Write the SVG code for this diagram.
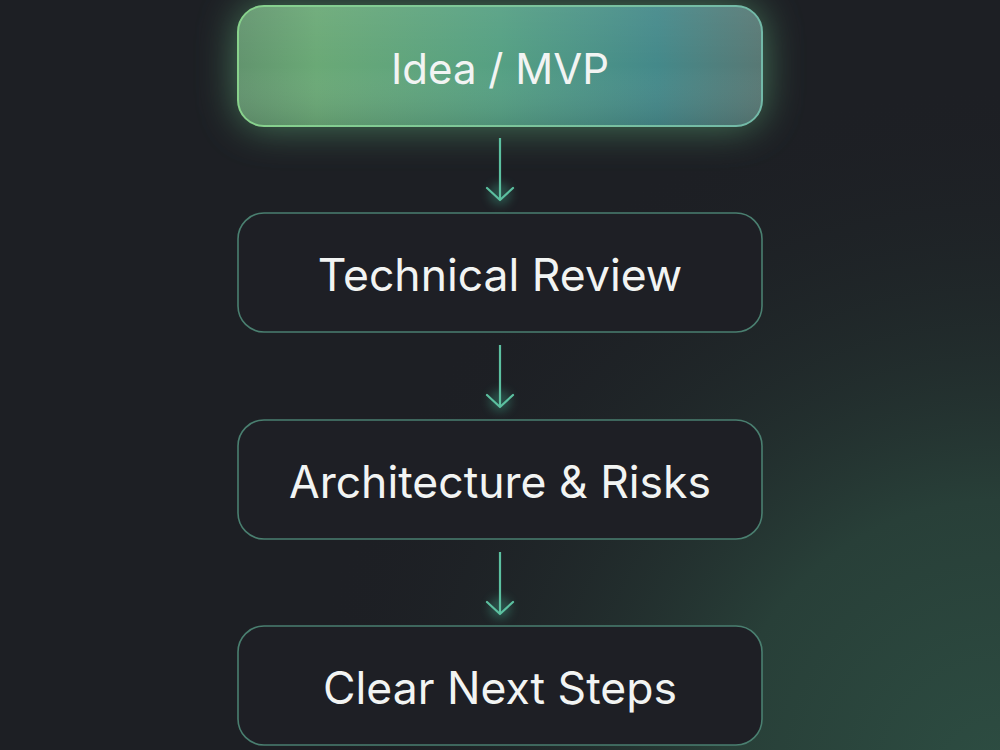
<svg xmlns="http://www.w3.org/2000/svg" width="1000" height="750" viewBox="0 0 1000 750">
  <defs>
    <radialGradient id="bgGlow" cx="1000" cy="780" r="700" gradientUnits="userSpaceOnUse">
      <stop offset="0" stop-color="#2d4d42"/>
      <stop offset="0.4" stop-color="#283f38"/>
      <stop offset="1" stop-color="#1d1f24" stop-opacity="0"/>
    </radialGradient>
    <linearGradient id="topFill" x1="0" y1="0" x2="1" y2="0">
      <stop offset="0" stop-color="#62946e"/>
      <stop offset="0.15" stop-color="#6aa976"/>
      <stop offset="0.5" stop-color="#55a083"/>
      <stop offset="0.8" stop-color="#44898a"/>
      <stop offset="1" stop-color="#587874"/>
    </linearGradient>
    <linearGradient id="topShade" x1="0" y1="0" x2="0" y2="1">
      <stop offset="0" stop-color="#ffffff" stop-opacity="0.06"/>
      <stop offset="0.5" stop-color="#ffffff" stop-opacity="0"/>
      <stop offset="1" stop-color="#1d1f24" stop-opacity="0.12"/>
    </linearGradient>
    <linearGradient id="topStroke" x1="0" y1="0" x2="1" y2="0">
      <stop offset="0" stop-color="#88d28c"/>
      <stop offset="1" stop-color="#72b9a8"/>
    </linearGradient>
    <filter id="glow" x="-30%" y="-80%" width="160%" height="260%">
      <feGaussianBlur stdDeviation="20"/>
    </filter>
    <filter id="aglow" x="-100%" y="-100%" width="300%" height="300%">
      <feGaussianBlur stdDeviation="5"/>
    </filter>
    <marker id="arrow" viewBox="0 0 30 30" refX="26" refY="15" markerWidth="30" markerHeight="30" markerUnits="userSpaceOnUse" orient="auto">
      <path d="M14 2 L26 15 L14 28" fill="none" stroke="#5cc0a0" stroke-width="2.2" stroke-linecap="round" stroke-linejoin="round"/>
    </marker>
    <style>
      .box { fill: #1e1f25; stroke: #4a7f70; stroke-width: 1.6; }
      .label { font-family: Inter, "Noto Sans", "Liberation Sans", sans-serif; font-size: 44.5px; fill: #f2f4f3; text-anchor: middle; }
      .big { font-size: 42px; }
      .conn { stroke: #5cc0a0; stroke-width: 2.2; fill: none; marker-end: url(#arrow); }
    </style>
  </defs>
  <rect x="0" y="0" width="1000" height="750" fill="#1d1f24"/>
  <rect x="0" y="0" width="1000" height="750" fill="url(#bgGlow)"/>

  <g id="node-idea">
    <rect x="238" y="6" width="524" height="120" rx="26" fill="#5fae7a" opacity="0.65" filter="url(#glow)"/>
    <rect x="238" y="6" width="524" height="120" rx="26" fill="url(#topFill)" stroke="url(#topStroke)" stroke-width="2"/>
    <rect x="239" y="7" width="522" height="118" rx="25" fill="url(#topShade)"/>
    <text class="label big" x="500" y="84">Idea / MVP</text>
  </g>

  <g id="connectors">
    <circle cx="500" cy="194" r="11" fill="#3fa88a" opacity="0.35" filter="url(#aglow)"/>
    <circle cx="500" cy="401" r="11" fill="#3fa88a" opacity="0.35" filter="url(#aglow)"/>
    <circle cx="500" cy="608" r="11" fill="#3fa88a" opacity="0.35" filter="url(#aglow)"/>
    <line class="conn" x1="500" y1="138" x2="500" y2="200"/>
    <line class="conn" x1="500" y1="345" x2="500" y2="407"/>
    <line class="conn" x1="500" y1="552" x2="500" y2="614"/>
  </g>

  <g id="node-review">
    <rect class="box" x="238" y="213" width="524" height="119" rx="26"/>
    <text class="label" x="500" y="291">Technical Review</text>
  </g>

  <g id="node-arch">
    <rect class="box" x="238" y="420" width="524" height="119" rx="26"/>
    <text class="label" x="500" y="498">Architecture &amp; Risks</text>
  </g>

  <g id="node-next">
    <rect class="box" x="238" y="626" width="524" height="119" rx="26"/>
    <text class="label" x="500" y="704">Clear Next Steps</text>
  </g>
</svg>
